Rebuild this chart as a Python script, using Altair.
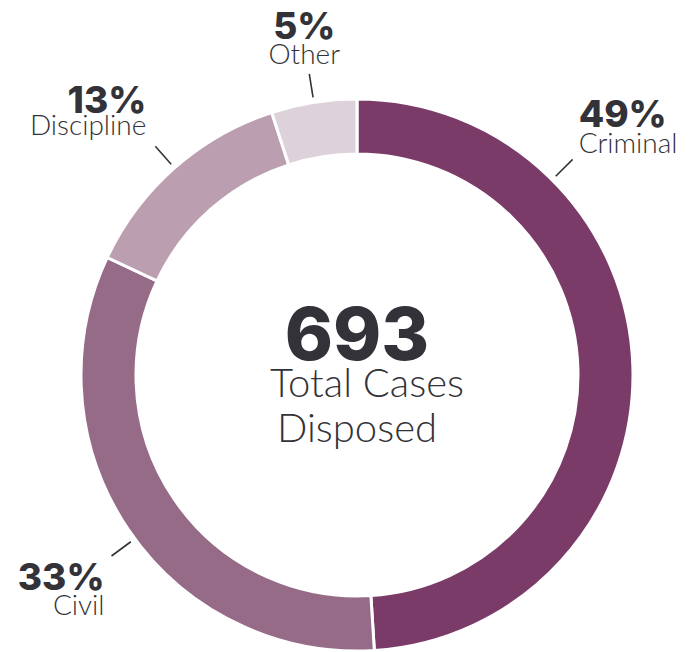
import math
import altair as alt
import pandas as pd

# ---- data ----
categories = ["Criminal", "Civil", "Discipline", "Other"]
percents = [49, 33, 13, 5]
colors = ["#7b3b69", "#966b87", "#bc9eb1", "#ddd1da"]
total_cases = 693
center_lines = ["Total Cases", "Disposed"]

# ---- layout (pixels) ----
W, H = 682, 644
CX, CY = 349, 367          # donut centre inside the chart
R_OUT, R_IN = 276, 221
LEAD_IN, LEAD_OUT = 281, 305
TEXT_COLOR = "#333238"
leader_angle_override = {"Criminal": 45, "Civil": 233.6}
# align, dx, dy(percent baseline), dy(name baseline)  -- screen offsets from leader end
label_layout = {
    "Criminal": ("left", 6, -32, -6),
    "Civil": ("right", -7, 34, 59),
    "Discipline": ("right", -9, -33, -11),
    "Other": ("center", -5, -35, -10),
}

arc_df = pd.DataFrame({"cat": categories, "pct": percents, "order": range(len(categories))})

total = sum(percents)
cum = 0
lead_rows, text_rows = [], []
for c, p in zip(categories, percents):
    mid = (cum + p / 2) / total * 360
    cum += p
    ang = math.radians(leader_angle_override.get(c, mid))
    x1, y1 = LEAD_IN * math.sin(ang), LEAD_IN * math.cos(ang)
    x2, y2 = LEAD_OUT * math.sin(ang), LEAD_OUT * math.cos(ang)
    lead_rows.append({"x1": x1, "y1": y1, "x2": x2, "y2": y2})
    al, dx, dyp, dyn = label_layout[c]
    text_rows.append({"text": f"{p}%", "x": x2 + dx, "y": y2 - dyp, "align": al, "kind": "pct"})
    text_rows.append({"text": c, "x": x2 + dx, "y": y2 - dyn, "align": al, "kind": "name"})

lead_df = pd.DataFrame(lead_rows)
text_df = pd.DataFrame(text_rows)
center_df = pd.DataFrame({
    "text": [str(total_cases)] + center_lines,
    "x": [0, 10, 0],
    "y": [15, -22, -67],
    "kind": ["big", "sub", "sub"],
})

xs = alt.Scale(domain=[-CX, W - CX], nice=False, zero=False)
ys = alt.Scale(domain=[-(H - CY), CY], nice=False, zero=False)

arc = alt.Chart(arc_df).mark_arc(
    outerRadius=R_OUT, innerRadius=R_IN, stroke="white", strokeWidth=3
).encode(
    x=alt.XDatum(0, type="quantitative", scale=xs, axis=None),
    y=alt.YDatum(0, type="quantitative", scale=ys, axis=None),
    theta=alt.Theta("pct:Q", stack=True),
    color=alt.Color("cat:N", scale=alt.Scale(domain=categories, range=colors), legend=None),
    order=alt.Order("order:Q"),
)

leads = alt.Chart(lead_df).mark_rule(color=TEXT_COLOR, strokeWidth=1.6).encode(
    x=alt.X("x1:Q", scale=xs, axis=None),
    y=alt.Y("y1:Q", scale=ys, axis=None),
    x2="x2:Q",
    y2="y2:Q",
)

layers = [arc, leads]
styles = {
    "pct": dict(font="Inter", fontSize=37, fontWeight=800),
    "name": dict(font="Lato", fontSize=28, fontWeight=300),
}
for kind, st in styles.items():
    for al in ["left", "right", "center"]:
        layers.append(
            alt.Chart(text_df).transform_filter(
                (alt.datum.kind == kind) & (alt.datum.align == al)
            ).mark_text(align=al, baseline="alphabetic", color=TEXT_COLOR, **st).encode(
                x=alt.X("x:Q", scale=xs, axis=None),
                y=alt.Y("y:Q", scale=ys, axis=None),
                text="text:N",
            )
        )

center_styles = {
    "big": dict(font="Inter", fontSize=73, fontWeight=800),
    "sub": dict(font="Lato", fontSize=40, fontWeight=300),
}
for kind, st in center_styles.items():
    layers.append(
        alt.Chart(center_df).transform_filter(alt.datum.kind == kind).mark_text(
            align="center", baseline="alphabetic", color=TEXT_COLOR, **st
        ).encode(
            x=alt.X("x:Q", scale=xs, axis=None),
            y=alt.Y("y:Q", scale=ys, axis=None),
            text="text:N",
        )
    )

chart = alt.layer(*layers).properties(
    width=W, height=H, padding=0, autosize=alt.AutoSizeParams(type="none")
).configure_view(stroke=None)

chart.save("out.html", embed_options={"renderer": "svg", "actions": False})
